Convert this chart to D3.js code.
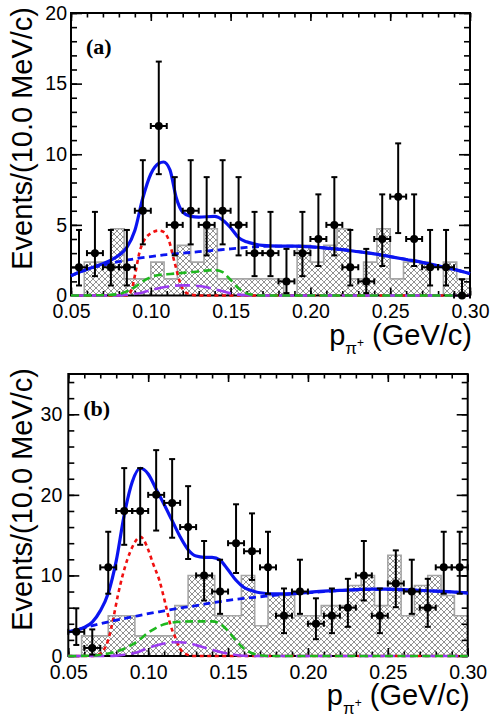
<!DOCTYPE html>
<html lang="en">
<head>
<meta charset="utf-8">
<title>p_pi+ momentum spectra</title>
<script src="https://cdn.jsdelivr.net/npm/d3@7"></script>
<style>
	body { margin: 0; background: #fff; }
	svg text { font-family: "Liberation Sans", Arial, Helvetica, sans-serif; }
</style>
</head>
<body>
<div id="chart"></div>
<script>

/*////////////////
//  Chart data  //
////////////////*/

// data bin centres (10 MeV/c bins)
var xCenters = [0.055, 0.065, 0.075, 0.085, 0.095, 0.105, 0.115, 0.125, 0.135, 0.145,
	0.155, 0.165, 0.175, 0.185, 0.195, 0.205, 0.215, 0.225, 0.235, 0.245,
	0.255, 0.265, 0.275, 0.285, 0.295];

// events per bin
var countsA = [2, 3, 2, 2, 6, 12, 5, 6, 5, 6, 5, 3, 3, 1, 3, 4, 5, 2, 1, 4, 7, 4, 2, 2, 0];
var countsB = [3, 1, 11, 18, 18, 20, 19, 16, 10, 8, 14, 13, 11, 5, 8, 4, 5, 6, 10, 5, 9, 8, 6, 11, 11];

// 68% poisson interval [low, high] for a count n
var poissonErr = [[0, 1.15], [0.17, 3.30], [0.71, 4.64], [1.37, 5.92], [2.09, 7.16],
	[2.84, 8.38], [3.62, 9.58], [4.42, 10.77], [5.23, 11.95], [6.06, 13.11],
	[6.89, 14.27], [7.73, 15.42], [8.59, 16.56], [9.44, 17.70], [10.30, 18.83],
	[11.17, 19.96], [12.04, 21.08], [12.92, 22.20], [13.80, 23.32], [14.68, 24.44],
	[15.57, 25.55]];

// hatched histogram (sideband), 30 bins
var histEdges = [0.05, 0.05833, 0.06667, 0.075, 0.08333, 0.09167, 0.1, 0.10833, 0.11667, 0.125,
	0.13333, 0.14167, 0.15, 0.15833, 0.16667, 0.175, 0.18333, 0.19167, 0.2, 0.20833,
	0.21667, 0.225, 0.23333, 0.24167, 0.25, 0.25833, 0.26667, 0.275, 0.28333, 0.29167, 0.3];
var histA = [0, 2.36, 2.36, 4.73, 1.18, 1.18, 2.36, 1.18, 3.55, 2.36,
	4.73, 1.18, 1.18, 1.18, 1.18, 1.18, 0, 3.55, 2.36, 3.55,
	4.73, 1.18, 2.36, 4.73, 1.18, 2.36, 2.36, 0, 2.36, 1.18];
var histB = [0, 2.5, 2.5, 5, 5, 2.5, 2.5, 2.5, 6.25, 10,
	10, 5, 5, 10, 3.75, 7.5, 7.5, 5, 5, 6.25,
	6.25, 8.75, 10, 6.25, 12.5, 5, 8.75, 10, 7.5, 5];

// fit curves [p, events]
var totA = [[0.05, 1.4], [0.06, 1.85], [0.065, 2.05], [0.07, 2.25], [0.075, 2.5], [0.08, 2.85],
	[0.085, 3.4], [0.09, 4.6], [0.095, 6.9], [0.10, 8.6], [0.105, 9.35], [0.108, 9.45],
	[0.112, 8.9], [0.116, 6.9], [0.12, 5.9], [0.125, 5.6], [0.13, 5.55], [0.14, 5.6],
	[0.145, 5.35], [0.15, 4.8], [0.155, 4.1], [0.16, 3.8], [0.165, 3.65], [0.17, 3.55],
	[0.18, 3.5], [0.19, 3.5], [0.20, 3.45], [0.21, 3.35], [0.22, 3.25], [0.23, 3.1],
	[0.24, 2.95], [0.25, 2.75], [0.26, 2.55], [0.27, 2.35], [0.28, 2.1], [0.29, 1.85], [0.30, 1.55]];
var bkgA = [[0.05, 1.4], [0.06, 1.85], [0.07, 2.15], [0.08, 2.4], [0.09, 2.6], [0.10, 2.75],
	[0.11, 2.9], [0.12, 3.0], [0.13, 3.1], [0.14, 3.2], [0.15, 3.3], [0.16, 3.4], [0.17, 3.48],
	[0.18, 3.5], [0.19, 3.5], [0.20, 3.45], [0.21, 3.35], [0.22, 3.25], [0.23, 3.1], [0.24, 2.95],
	[0.25, 2.75], [0.26, 2.55], [0.27, 2.35], [0.28, 2.1], [0.29, 1.85], [0.30, 1.55]];
var redA = [[0.05, 0], [0.085, 0], [0.088, 0.4], [0.09, 1.4], [0.093, 3.1], [0.097, 4.1],
	[0.10, 4.4], [0.105, 4.6], [0.108, 4.5], [0.111, 4.0], [0.115, 2.3], [0.119, 0.7],
	[0.123, 0.15], [0.13, 0], [0.30, 0]];
var greenA = [[0.05, 0], [0.07, 0.02], [0.08, 0.1], [0.085, 0.3], [0.09, 0.6], [0.095, 1.0],
	[0.10, 1.3], [0.105, 1.45], [0.11, 1.5], [0.12, 1.6], [0.13, 1.7], [0.14, 1.8], [0.145, 1.65],
	[0.15, 1.1], [0.155, 0.5], [0.16, 0.15], [0.165, 0.03], [0.17, 0], [0.30, 0]];
var purpleA = [[0.05, 0], [0.08, 0], [0.085, 0.05], [0.09, 0.12], [0.095, 0.22], [0.10, 0.38],
	[0.105, 0.52], [0.11, 0.62], [0.115, 0.7], [0.12, 0.72], [0.125, 0.72], [0.13, 0.67],
	[0.135, 0.58], [0.14, 0.45], [0.145, 0.3], [0.15, 0.15], [0.155, 0.06], [0.16, 0.02],
	[0.165, 0], [0.30, 0]];

var totB = [[0.05, 3.0], [0.055, 3.2], [0.06, 3.55], [0.065, 4.2], [0.07, 5.6], [0.075, 7.8],
	[0.08, 11.8], [0.085, 17.5], [0.09, 21.6], [0.095, 23.3], [0.10, 22.6], [0.105, 20.7],
	[0.11, 18.8], [0.115, 16.8], [0.12, 14.8], [0.125, 13.2], [0.13, 12.4], [0.135, 12.25],
	[0.14, 12.25], [0.145, 11.9], [0.15, 10.7], [0.155, 9.4], [0.16, 8.5], [0.165, 8.1],
	[0.17, 7.85], [0.18, 7.7], [0.19, 7.75], [0.20, 7.9], [0.21, 8.05], [0.22, 8.15],
	[0.23, 8.25], [0.24, 8.3], [0.25, 8.3], [0.26, 8.25], [0.27, 8.15], [0.28, 8.05],
	[0.29, 7.95], [0.30, 7.8]];
var bkgB = [[0.05, 3.0], [0.06, 3.5], [0.07, 4.0], [0.08, 4.45], [0.09, 4.85], [0.10, 5.25],
	[0.11, 5.6], [0.12, 5.95], [0.13, 6.25], [0.14, 6.6], [0.15, 6.9], [0.16, 7.15], [0.17, 7.35],
	[0.18, 7.55], [0.19, 7.7], [0.20, 7.85], [0.21, 8.0], [0.22, 8.1], [0.23, 8.2], [0.24, 8.25],
	[0.25, 8.25], [0.26, 8.2], [0.27, 8.15], [0.28, 8.05], [0.29, 7.95], [0.30, 7.8]];
var redB = [[0.05, 0], [0.065, 0], [0.068, 0.1], [0.072, 0.7], [0.075, 2.0], [0.078, 4.5],
	[0.081, 7.5], [0.084, 10.0], [0.087, 12.0], [0.09, 13.5], [0.093, 14.5], [0.095, 14.8],
	[0.097, 14.5], [0.10, 13.2], [0.103, 11.5], [0.107, 9.4], [0.111, 6.3], [0.114, 3.8],
	[0.117, 2.3], [0.12, 0.9], [0.124, 0.2], [0.128, 0], [0.30, 0]];
var greenB = [[0.05, 0], [0.065, 0.05], [0.07, 0.15], [0.075, 0.3], [0.08, 0.55], [0.085, 0.9],
	[0.09, 1.4], [0.095, 2.1], [0.10, 2.9], [0.105, 3.5], [0.11, 3.95], [0.115, 4.15],
	[0.12, 4.25], [0.13, 4.3], [0.14, 4.3], [0.145, 4.0], [0.15, 3.1], [0.155, 1.9],
	[0.16, 0.9], [0.165, 0.35], [0.17, 0.1], [0.175, 0], [0.30, 0]];
var purpleB = [[0.05, 0], [0.075, 0], [0.08, 0.05], [0.085, 0.15], [0.09, 0.3], [0.095, 0.6],
	[0.10, 1.0], [0.105, 1.3], [0.11, 1.55], [0.115, 1.7], [0.12, 1.7], [0.125, 1.6],
	[0.13, 1.35], [0.135, 1.05], [0.14, 0.8], [0.145, 0.5], [0.15, 0.3], [0.155, 0.12],
	[0.16, 0.03], [0.165, 0], [0.30, 0]];

// axis ticks
var xMajorTicks = [0.05, 0.10, 0.15, 0.20, 0.25, 0.30];
var yMajorTicksA = [0, 5, 10, 15, 20];
var yMajorTicksB = [0, 10, 20, 30];

/*//////////////////////
//  SVG Canvas Setup  //
//////////////////////*/

var w = 493;
var h = 717;

var svg = d3.select("#chart")
	.append("svg")
	.attr("width", w)
	.attr("height", h);

svg.append("rect")
	.attr("width", w)
	.attr("height", h)
	.attr("fill", "white");

// cross hatch for the sideband histogram
var hatch = svg.append("defs")
	.append("pattern")
	.attr("id", "hatch")
	.attr("patternUnits", "userSpaceOnUse")
	.attr("width", 6)
	.attr("height", 6);
hatch.append("path")
	.attr("d", "M0,0L6,6M6,0L0,6")
	.attr("stroke", "#848484")
	.attr("stroke-width", 0.9);

/*//////////////////
//  Panel drawing  //
//////////////////*/

function drawPanel(p) {
	var g = svg.append("g");

	var x = d3.scaleLinear().domain([0.05, 0.30]).range([p.left, p.right]);
	var y = d3.scaleLinear().domain([0, p.yMax]).range([p.bottom, p.top]);

	// Histogram bins
	g.selectAll("rect.bin")
		.data(p.hist)
		.enter()
		.append("rect")
		.attr("class", "bin")
		.attr("x", function(d, i) { return x(histEdges[i]); })
		.attr("width", function(d, i) { return x(histEdges[i + 1]) - x(histEdges[i]); })
		.attr("y", function(d) { return y(d); })
		.attr("height", function(d) { return y(0) - y(d); })
		.attr("fill", "url(#hatch)");

	var steps = [[histEdges[0], 0]];
	p.hist.forEach(function(d, i) { steps.push([histEdges[i], d]); });
	steps.push([histEdges[histEdges.length - 1], p.hist[p.hist.length - 1]]);
	steps.push([histEdges[histEdges.length - 1], 0]);

	g.append("path")
		.attr("d", d3.line()
			.x(function(d) { return x(d[0]); })
			.y(function(d) { return y(d[1]); })
			.curve(d3.curveStepAfter)(steps))
		.attr("fill", "none")
		.attr("stroke", "#a6a6a6")
		.attr("stroke-width", 1.6);

	// Axes (ticks point inwards)
	function styleAxis(sel) {
		sel.select(".domain").remove();
		sel.selectAll("line").attr("stroke", "black").attr("stroke-width", 1.6);
		sel.selectAll("text")
			.attr("fill", "black")
			.style("font-size", "19.5px");
	}
	var xMinor = d3.range(0.05, 0.3001, 0.01);
	var yMinor = d3.range(0, p.yMax + 0.001, p.yMinorStep);

	g.append("g").attr("transform", "translate(0," + p.bottom + ")")
		.call(d3.axisBottom(x).tickValues(xMinor).tickSize(-4.5).tickFormat(""))
		.call(styleAxis);
	g.append("g").attr("transform", "translate(0," + p.bottom + ")")
		.call(d3.axisBottom(x).tickValues(xMajorTicks).tickSize(-8).tickPadding(9)
			.tickFormat(d3.format(".2f")))
		.call(styleAxis);
	g.append("g").attr("transform", "translate(0," + p.top + ")")
		.call(d3.axisTop(x).tickValues(xMinor).tickSize(-4.5).tickFormat(""))
		.call(styleAxis);
	g.append("g").attr("transform", "translate(0," + p.top + ")")
		.call(d3.axisTop(x).tickValues(xMajorTicks).tickSize(-8).tickFormat(""))
		.call(styleAxis);

	g.append("g").attr("transform", "translate(" + p.left + ",0)")
		.call(d3.axisLeft(y).tickValues(yMinor).tickSize(-6).tickFormat(""))
		.call(styleAxis);
	g.append("g").attr("transform", "translate(" + p.left + ",0)")
		.call(d3.axisLeft(y).tickValues(p.yMajor).tickSize(-11).tickPadding(p.yPad)
			.tickFormat(d3.format("d")))
		.call(styleAxis);
	g.append("g").attr("transform", "translate(" + p.right + ",0)")
		.call(d3.axisRight(y).tickValues(yMinor).tickSize(-6).tickFormat(""))
		.call(styleAxis);
	g.append("g").attr("transform", "translate(" + p.right + ",0)")
		.call(d3.axisRight(y).tickValues(p.yMajor).tickSize(-11).tickFormat(""))
		.call(styleAxis);

	// Frame
	g.append("rect")
		.attr("x", p.left)
		.attr("y", p.top)
		.attr("width", p.right - p.left)
		.attr("height", p.bottom - p.top)
		.attr("fill", "none")
		.attr("stroke", "black")
		.attr("stroke-width", 2);

	// Fit curves
	var line = d3.line()
		.x(function(d) { return x(d[0]); })
		.y(function(d) { return y(d[1]); })
		.curve(d3.curveMonotoneX);

	var curves = [
		{ data: p.red, color: "#f01010", width: 2.6, dash: "4,3.5" },
		{ data: p.purple, color: "#9b3cf0", width: 2.6, dash: "15,6" },
		{ data: p.green, color: "#1fb81f", width: 2.6, dash: "8,4.5" },
		{ data: p.bkg, color: "#0a14f0", width: 2.8, dash: "7,4.5" },
		{ data: p.tot, color: "#0a14f0", width: 3.2, dash: null }
	];
	curves.forEach(function(c) {
		g.append("path")
			.attr("d", line(c.data))
			.attr("fill", "none")
			.attr("stroke", c.color)
			.attr("stroke-width", c.width)
			.attr("stroke-dasharray", c.dash);
	});

	// Data points with error bars
	var pts = g.selectAll("g.pt")
		.data(p.counts)
		.enter()
		.append("g")
		.attr("class", "pt")
		.attr("stroke", "black")
		.attr("stroke-width", 2);

	var cap = 3;
	// vertical bar and caps
	pts.append("line")
		.attr("x1", function(d, i) { return x(xCenters[i]); })
		.attr("x2", function(d, i) { return x(xCenters[i]); })
		.attr("y1", function(d) { return y(poissonErr[d][0]); })
		.attr("y2", function(d) { return y(poissonErr[d][1]); });
	pts.append("line")
		.attr("x1", function(d, i) { return x(xCenters[i]) - cap; })
		.attr("x2", function(d, i) { return x(xCenters[i]) + cap; })
		.attr("y1", function(d) { return y(poissonErr[d][1]); })
		.attr("y2", function(d) { return y(poissonErr[d][1]); });
	pts.append("line")
		.attr("x1", function(d, i) { return x(xCenters[i]) - cap; })
		.attr("x2", function(d, i) { return x(xCenters[i]) + cap; })
		.attr("y1", function(d) { return y(poissonErr[d][0]); })
		.attr("y2", function(d) { return y(poissonErr[d][0]); })
		.attr("display", function(d) { return d > 0 ? null : "none"; });
	// horizontal bar (bin width) and caps
	pts.append("line")
		.attr("x1", function(d, i) { return x(xCenters[i] - 0.005); })
		.attr("x2", function(d, i) { return x(xCenters[i] + 0.005); })
		.attr("y1", function(d) { return y(d); })
		.attr("y2", function(d) { return y(d); });
	pts.append("line")
		.attr("x1", function(d, i) { return x(xCenters[i] - 0.005); })
		.attr("x2", function(d, i) { return x(xCenters[i] - 0.005); })
		.attr("y1", function(d) { return y(d) - cap; })
		.attr("y2", function(d) { return y(d) + cap; });
	pts.append("line")
		.attr("x1", function(d, i) { return x(xCenters[i] + 0.005); })
		.attr("x2", function(d, i) { return x(xCenters[i] + 0.005); })
		.attr("y1", function(d) { return y(d) - cap; })
		.attr("y2", function(d) { return y(d) + cap; });
	pts.append("circle")
		.attr("cx", function(d, i) { return x(xCenters[i]); })
		.attr("cy", function(d) { return y(d); })
		.attr("r", 4)
		.attr("fill", "black")
		.attr("stroke", "none");

	// Panel tag
	g.append("text")
		.attr("x", p.left + 15)
		.attr("y", p.top + p.tagDy)
		.attr("font-weight", "bold")
		.attr("font-size", "22px")
		.style("font-family", "'Liberation Serif', 'Times New Roman', serif")
		.text(p.tag);

	// Axis titles
	g.append("text")
		.attr("transform", "translate(" + p.yTitleX + "," + (p.top - 6) + ") rotate(-90)")
		.attr("text-anchor", "end")
		.attr("font-size", "29px")
		.text("Events/(10.0 MeV/c)");

	var xt = g.append("text")
		.attr("x", p.right + 2)
		.attr("y", p.bottom + 49)
		.attr("text-anchor", "end")
		.attr("font-size", "29px");
	xt.append("tspan").text("p");
	xt.append("tspan").attr("dy", 9).attr("font-size", "17px").text("π");
	xt.append("tspan").attr("dy", -7).attr("font-size", "12px").text("+");
	xt.append("tspan").attr("dy", -2).text(" (GeV/c)");
}

drawPanel({
	left: 71, right: 470, top: 13, bottom: 295.5, yMax: 20,
	yMajor: yMajorTicksA, yMinorStep: 1, yPad: 4, yTitleX: 32,
	hist: histA, counts: countsA,
	tot: totA, bkg: bkgA, red: redA, green: greenA, purple: purpleA,
	tag: "(a)", tagDy: 41
});

drawPanel({
	left: 68.3, right: 467.7, top: 374, bottom: 656, yMax: 35,
	yMajor: yMajorTicksB, yMinorStep: 2, yPad: 6, yTitleX: 32,
	hist: histB, counts: countsB,
	tot: totB, bkg: bkgB, red: redB, green: greenB, purple: purpleB,
	tag: "(b)", tagDy: 42
});

</script>
</body>
</html>
